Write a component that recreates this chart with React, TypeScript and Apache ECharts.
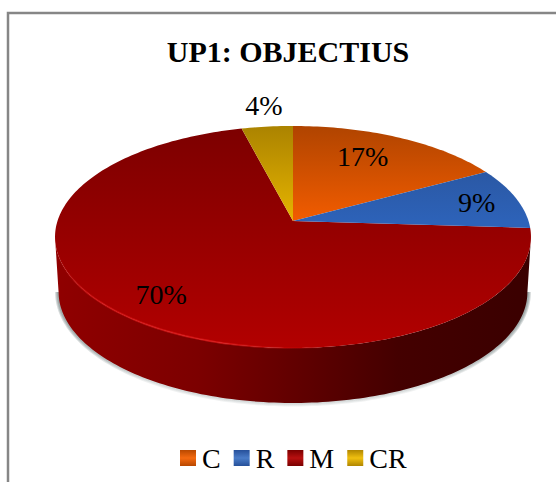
import React, { useEffect, useRef } from "react";
import * as echarts from "echarts";

const categories = ["C", "R", "M", "CR"];
const percentValues = [17, 9, 70, 4];
const labelTexts = ["17%", "9%", "70%", "4%"];
const faceStops = [
  ["#b04400", "#f25c00"],
  ["#284f92", "#2d62b8"],
  ["#7c0000", "#b20000"],
  ["#ab8300", "#e6b400"],
];
const legendStops = [
  ["#b84800", "#f56a10", "#b84800"],
  ["#26509a", "#4a7cc8", "#26509a"],
  ["#7a0000", "#b81010", "#7a0000"],
  ["#b08600", "#f0c010", "#b08600"],
];

const FONT = "'Liberation Serif', serif";
const CX = 293;
const APEX_Y = 221;
const RX = 235.5;
const A = 108.7;
const B = 0.144;
const DEPTH = 55;
const LABEL_RADIUS = [0.73, 0.82, 0.8, 1.26];
const LABEL_TURN = [-0.074, 0, 0, 0.01];
const total = percentValues.reduce((a, b) => a + b, 0);

// Perspective projection of a point of the pie's plane
function project(r: number, theta: number, dy = 0, sx = 1) {
  const v = r * Math.cos(theta);
  const d = 1 + B * v;
  return [CX + (sx * RX * r * Math.sin(theta)) / d, APEX_Y + dy - (A * v) / d];
}

function arcPoints(t0: number, t1: number, dy = 0, sx = 1) {
  const n = Math.max(2, Math.ceil(Math.abs(t1 - t0) / 0.02));
  const pts: number[][] = [];
  for (let i = 0; i <= n; i++) pts.push(project(1, t0 + ((t1 - t0) * i) / n, dy, sx));
  return pts;
}

const grad = (x0: number, y0: number, x1: number, y1: number, stops: any[]) =>
  new echarts.graphic.LinearGradient(x0, y0, x1, y1, stops, true);

function makeRenderItem(index: number) {
  const before = percentValues.slice(0, index).reduce((a, b) => a + b, 0);
  return (_params: any, api: any) => {
    const value = api.value(0);
    const t0 = (before / total) * 2 * Math.PI;
    const t1 = ((before + value) / total) * 2 * Math.PI;
    const children: any[] = [];

    // visible outer wall: the front part of the slice's rim
    const wallStart = Math.PI - Math.acos(B);
    const wallEnd = Math.PI + Math.acos(B);
    const w0 = Math.max(t0, wallStart);
    const w1 = Math.min(t1, wallEnd);
    if (w1 > w0) {
      const top = arcPoints(w0, w1);
      const bottom = arcPoints(w0, w1, DEPTH, 0.985);
      // soft shadow hugging the lower rim
      [7, 5, 3].forEach((lineWidth) => {
        children.push({
          type: "polyline",
          shape: { points: bottom },
          style: {
            fill: "none",
            lineWidth,
            stroke: grad(55, 0, 531, 0, [
              { offset: 0, color: "rgba(70,90,90,0.22)" },
              { offset: 0.2, color: "rgba(70,90,90,0.08)" },
              { offset: 0.8, color: "rgba(70,90,90,0.08)" },
              { offset: 1, color: "rgba(70,90,90,0.22)" },
            ]),
          },
        });
      });
      children.push({
        type: "polygon",
        shape: { points: [...top, ...[...bottom].reverse()] },
        style: {
          fill: grad(55, 0, 531, 0, [
            { offset: 0, color: "#900000" },
            { offset: 0.3, color: "#7c0000" },
            { offset: 0.5, color: "#620000" },
            { offset: 0.72, color: "#440000" },
            { offset: 1, color: "#3a0000" },
          ]),
        },
      });
    }

    children.push({
      type: "polygon",
      shape: { points: [[CX, APEX_Y], ...arcPoints(t0, t1)] },
      style: {
        fill: grad(0, 126, 0, index === 2 ? 348 : 221, [
          { offset: 0, color: faceStops[index][0] },
          { offset: 1, color: faceStops[index][1] },
        ]),
      },
    });

    if (w1 > w0) {
      children.push({
        type: "polyline",
        shape: { points: arcPoints(w0, w1) },
        style: {
          fill: "none",
          lineWidth: 2,
          stroke: grad(55, 0, 345, 0, [
            { offset: 0, color: "rgba(220,20,20,0)" },
            { offset: 0.12, color: "rgba(220,20,20,0.6)" },
            { offset: 0.55, color: "rgba(225,25,25,0.75)" },
            { offset: 1, color: "rgba(200,0,0,0)" },
          ]),
        },
      });
    }

    const mid = (t0 + t1) / 2 + LABEL_TURN[index];
    const [lx, ly] = project(LABEL_RADIUS[index], mid);
    children.push({
      type: "text",
      z2: 50,
      style: {
        text: labelTexts[index],
        x: lx,
        y: ly,
        fill: "#000",
        fontSize: 28,
        fontFamily: FONT,
        textAlign: "center",
        textVerticalAlign: "middle",
      },
    });
    return { type: "group", children };
  };
}

export default function App() {
  const ref = useRef<HTMLDivElement>(null);
  useEffect(() => {
    const chart = echarts.init(ref.current!, null, { renderer: "svg" });
    chart.setOption({
      animation: false,
      backgroundColor: "#fff",
      title: {
        text: "UP1: OBJECTIUS",
        left: 283,
        top: 31,
        textAlign: "center",
        textStyle: { fontFamily: FONT, fontSize: 30, fontWeight: "bold", color: "#000" },
      },
      legend: {
        left: 175,
        top: 439,
        icon: "rect",
        itemWidth: 16,
        itemHeight: 16,
        itemGap: 13,
        textStyle: { fontFamily: FONT, fontSize: 28, color: "#000", padding: [0, 0, 0, 1] },
        data: categories.map((name, i) => ({
          name,
          itemStyle: {
            color: new echarts.graphic.LinearGradient(0, 0, 0, 1, [
              { offset: 0, color: legendStops[i][0] },
              { offset: 0.5, color: legendStops[i][1] },
              { offset: 1, color: legendStops[i][2] },
            ]),
          },
        })),
      },
      graphic: [
        {
          type: "polyline",
          shape: { points: [[8, 482], [8, 13], [556, 13]] },
          style: { fill: "none", stroke: "#868686", lineWidth: 2.5 },
          silent: true,
        },
      ],
      series: categories.map((name, i) => ({
        type: "custom",
        name,
        coordinateSystem: "none",
        z: i === 2 ? 1 : 2,
        itemStyle: { color: legendStops[i][1] },
        renderItem: makeRenderItem(i),
        data: [{ name, value: [percentValues[i]] }],
      })),
    });
    return () => chart.dispose();
  }, []);
  return <div ref={ref} style={{ position: "fixed", left: 0, top: 0, width: 556, height: 482 }} />;
}
